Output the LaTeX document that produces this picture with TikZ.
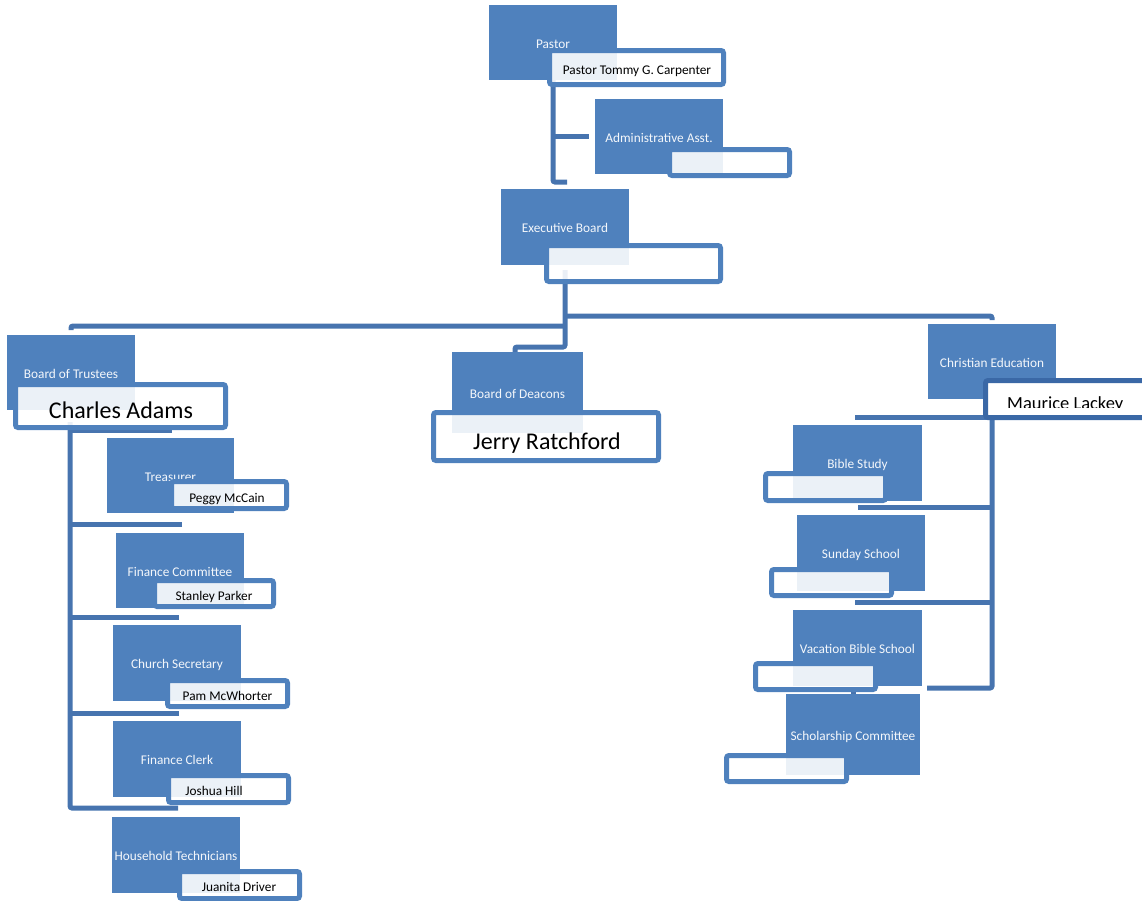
\documentclass[tikz,border=0pt]{standalone}
\usepackage{fontspec}
\setmainfont{Carlito}
\usetikzlibrary{backgrounds,calc}
\definecolor{boxblue}{HTML}{4F81BD}
\definecolor{lineblue}{HTML}{4774AF}
\definecolor{darkborder}{HTML}{3A68A6}
\definecolor{roletxt}{HTML}{F4F7FB}
\tikzset{
  rolebox/.style={fill=boxblue, inner sep=0pt, outer sep=0pt, minimum width=128pt, minimum height=75pt,
    text=roletxt, font=\fontsize{13.3}{15}\selectfont, text height=12pt, text depth=1pt},
  namebox/.style={draw=boxblue, line width=5pt, fill=white, fill opacity=0.89, rounded corners=2.5pt,
    inner sep=0pt, outer sep=0pt, minimum width=120pt, minimum height=26pt},
  conn/.style={draw=lineblue, line width=5pt, rounded corners=2pt},
  nametext/.style={anchor=base, inner sep=0pt, text=black, font=\fontsize{13.3}{15}\selectfont},
  bigname/.style={nametext, font=\fontsize{24}{28}\selectfont},
}
\begin{document}
\begin{tikzpicture}[x=1pt,y=-1pt]
\useasboundingbox (0,0) rectangle (1142,900);
\clip (0,0) rectangle (1142,900);

% role boxes
\node[rolebox] (pastor) at (553,42.5) {Pastor};
\node[rolebox] (admin) at (659,136.5) {Administrative Asst.};
\node[rolebox, minimum height=76pt] (exec) at (565,227) {Executive Board};
\node[rolebox] (trustees) at (71,372.5) {Board of Trustees};
\node[rolebox, minimum width=127pt] (treasurer) at (170.5,475.5) {Treasurer};
\node[rolebox] (fincomm) at (180,570.5) {Finance Committee};
\node[rolebox, minimum height=76pt] (chsec) at (177,663) {Church Secretary};
\node[rolebox, minimum height=76pt] (finclerk) at (177,759) {Finance Clerk};
\node[rolebox, minimum height=76pt] (household) at (176,855) {Household Technicians};
\node[rolebox, minimum width=131pt, minimum height=81pt] (deacons) at (517.5,392.5) {Board of Deacons};
\node[rolebox] (cheduc) at (992,361.5) {Christian Education};
\node[rolebox, minimum width=129pt, minimum height=76pt] (bible) at (857.5,463) {Bible Study};
\node[rolebox, minimum height=76pt] (sunday) at (861,553) {Sunday School};
\node[rolebox, minimum width=129pt, minimum height=76pt] (vbs) at (857.5,648) {Vacation Bible School};
\node[rolebox, minimum width=134pt, minimum height=81pt] (scholar) at (853,734.5) {Scholarship Committee};

% name boxes
\node[namebox, minimum width=174pt, minimum height=34pt] (pastorname) at (636.5,67.5) {};
\node[namebox] (adminname) at (729.5,162.5) {};
\node[namebox, minimum width=174pt, minimum height=36pt] (execname) at (633.5,263.5) {};
\node[namebox, minimum width=210pt, minimum height=43pt] (adamsname) at (120.5,406) {};
\node[namebox, minimum width=115pt, minimum height=27pt] (treasname) at (229,495) {};
\node[namebox, minimum width=119pt] (fcname) at (214,593.5) {};
\node[namebox] (csname) at (227.5,693.5) {};
\node[namebox, minimum height=27pt] (fclerkname) at (228.5,789) {};
\node[namebox, minimum height=27pt] (hhname) at (239.5,885) {};
\node[namebox, minimum width=225pt, minimum height=48pt] (deaconsname) at (546,436.5) {};
\node[namebox, minimum height=27pt] (biblename) at (825.5,487) {};
\node[namebox] (sundayname) at (831.5,582.5) {};
\node[namebox] (vbsname) at (815.5,676.5) {};
\node[namebox] (scholname) at (786.5,768.5) {};
\node[namebox, draw=darkborder, fill opacity=1, minimum width=180pt, minimum height=37pt] (lackeyname) at (1075.5,399) {};

% name texts
\node[nametext] (pastor-t) at (637,74) {Pastor Tommy G. Carpenter};
\node[bigname] (adams-t) at (121,418.3) {Charles Adams};
\node[nametext] (treas-t) at (227,502) {Peggy McCain};
\node[nametext] (fc-t) at (214,600.7) {Stanley Parker};
\node[nametext] (cs-t) at (227.5,700.7) {Pam McWhorter};
\node[nametext] (fclerk-t) at (214,795.7) {Joshua Hill};
\node[nametext] (hh-t) at (239,891.7) {Juanita Driver};
\node[bigname] (deacons-t) at (547,449.3) {Jerry Ratchford};
\begin{scope}
  \clip (985,382) rectangle (1142,407.5);
  \node[nametext, font=\fontsize{18.5}{22}\selectfont, anchor=base west] (lackey-t) at (1007,409) {Maurice Lackey};
\end{scope}

% connectors
\begin{scope}[on background layer]
  \coordinate (lbus) at (565,326);
  \coordinate (rbus) at (565,316);
  \coordinate (tspine) at (70,422);
  \coordinate (cspine) at (992,385);
  \coordinate (cend) at (927,688);
  \draw[conn] (pastor.south) |- ([xshift=2pt,yshift=7pt]exec.north);
  \draw[conn] (pastor.south |- admin.west) -- ([xshift=-6pt]admin.west);
  \draw[conn] ([yshift=-5pt]exec.south) |- ([xshift=-2.5pt,yshift=5pt]deacons.north) -- ([xshift=-2.5pt]deacons.north);
  \draw[conn] (lbus) -| ([yshift=5pt]trustees.north);
  \draw[conn] (rbus) -| ([yshift=4pt]cheduc.north);
  % trustees column
  \coordinate (b1) at ($(treasurer.north)+(1.5,-8)$);
  \coordinate (b2) at ($(fincomm.north)+(2,-9)$);
  \coordinate (b3) at ($(chsec.north)+(2,-8)$);
  \coordinate (b4) at ($(finclerk.north)+(2,-8)$);
  \coordinate (b5) at ($(household.north)+(2,-9)$);
  \draw[conn] (tspine) |- (b5);
  \draw[conn] (b1) -- (tspine |- b1);
  \draw[conn] (b2) -- (tspine |- b2);
  \draw[conn] (b3) -- (tspine |- b3);
  \draw[conn] (b4) -- (tspine |- b4);
  % christian education column
  \coordinate (c1) at ($(bible.north)+(-2.5,-8)$);
  \coordinate (c2) at ($(sunday.north)+(-3,-8)$);
  \coordinate (c3) at ($(vbs.north)+(-2.5,-8)$);
  \coordinate (c4) at ($(scholar.north)+(0,-6)$);
  \draw[conn] (cspine) |- (cend);
  \draw[conn] (c1) -- (cspine |- c1);
  \draw[conn] (c2) -- (cspine |- c2);
  \draw[conn] (c3) -- (cspine |- c3);
  \draw[conn] (scholar.north) -- (c4);
\end{scope}
\end{tikzpicture}
\end{document}
